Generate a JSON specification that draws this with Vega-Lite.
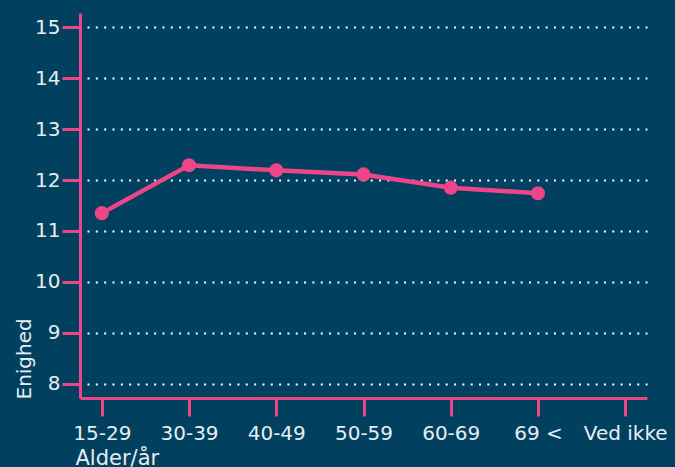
{
  "$schema": "https://vega.github.io/schema/vega-lite/v6.json",
  "width": 567,
  "height": 385,
  "autosize": {"type": "none"},
  "padding": {"left": 80, "top": 13, "right": 28, "bottom": 69},
  "background": "#01415f",
  "config": {
    "view": {"stroke": null},
    "font": "DejaVu Sans"
  },
  "data": {
    "values": [
      {"alder": "15-29", "enighed": 11.35},
      {"alder": "30-39", "enighed": 12.29},
      {"alder": "40-49", "enighed": 12.19},
      {"alder": "50-59", "enighed": 12.11},
      {"alder": "60-69", "enighed": 11.85},
      {"alder": "69 <", "enighed": 11.74},
      {"alder": "Ved ikke", "enighed": null}
    ]
  },
  "encoding": {
    "x": {
      "field": "alder",
      "type": "ordinal",
      "sort": null,
      "scale": {"type": "point", "padding": 0.25},
      "axis": {
        "title": "Alder/år",
        "titleColor": "#e6edf1",
        "titleFont": "DejaVu Sans",
        "titleFontWeight": "normal",
        "titleFontSize": 21,
        "titleAnchor": null,
        "titleAlign": "left",
        "titleBaseline": "alphabetic",
        "titleX": -5,
        "titleY": 66,
        "labelAngle": 0,
        "labelColor": "#e6edf1",
        "labelFont": "DejaVu Sans",
        "labelFontWeight": "normal",
        "labelFontSize": 20,
        "labelPadding": 7,
        "domainColor": "#ee4488",
        "domainWidth": 3,
        "tickColor": "#ee4488",
        "tickWidth": 3,
        "tickSize": 18,
        "grid": false
      }
    },
    "y": {
      "field": "enighed",
      "type": "quantitative",
      "scale": {"domain": [7.72, 15.28], "nice": false, "zero": false},
      "axis": {
        "title": "Enighed",
        "titleColor": "#e6edf1",
        "titleFont": "DejaVu Sans",
        "titleFontWeight": "normal",
        "titleFontSize": 20,
        "titleAnchor": null,
        "titleAngle": 270,
        "titleAlign": "left",
        "titleBaseline": "alphabetic",
        "titleX": -50,
        "titleY": 386,
        "values": [8, 9, 10, 11, 12, 13, 14, 15],
        "labelColor": "#e6edf1",
        "labelFont": "DejaVu Sans",
        "labelFontWeight": "normal",
        "labelFontSize": 20,
        "labelPadding": 2,
        "domainColor": "#ee4488",
        "domainWidth": 3,
        "tickColor": "#ee4488",
        "tickWidth": 3,
        "tickSize": 18,
        "grid": true,
        "gridColor": "#ffffff",
        "gridWidth": 2,
        "gridDash": [2, 6.33],
        "gridDashOffset": 1.33
      }
    }
  },
  "layer": [
    {
      "mark": {"type": "line", "color": "#ee4488", "strokeWidth": 4.5}
    },
    {
      "mark": {"type": "point", "filled": true, "color": "#ee4488", "opacity": 1, "size": 200}
    }
  ]
}
